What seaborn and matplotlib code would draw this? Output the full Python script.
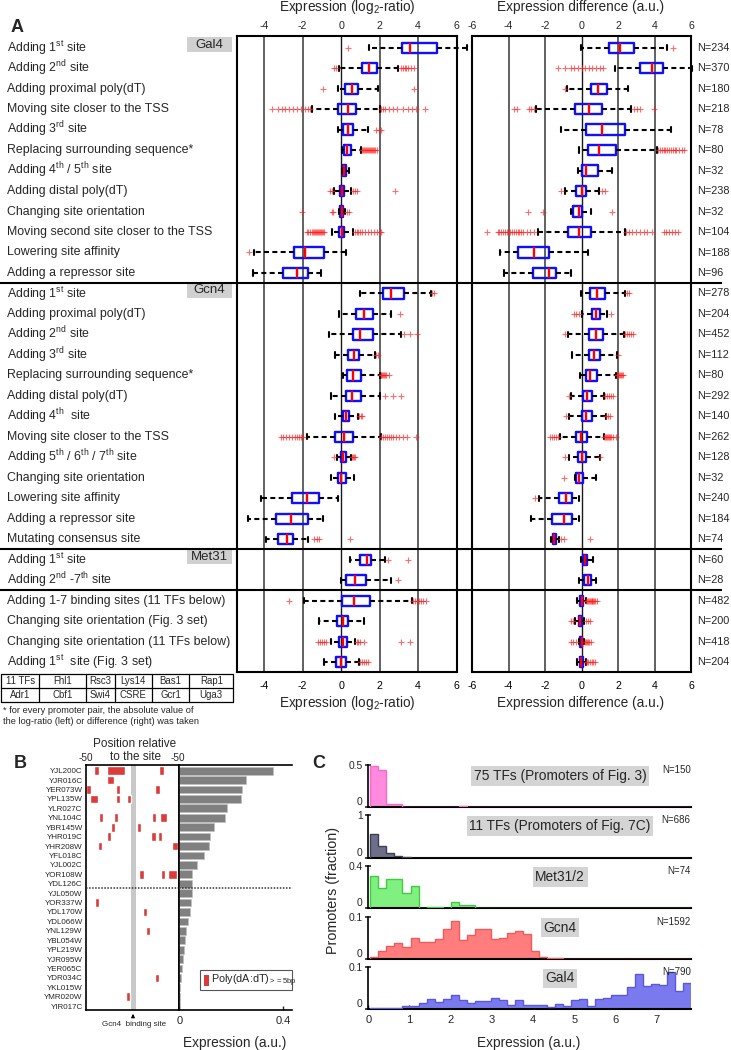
import numpy as np
import pandas as pd
import matplotlib
matplotlib.use("Agg")
import matplotlib.pyplot as plt
import seaborn as sns
from matplotlib.patches import Rectangle

sns.set_theme(style="white")
plt.rcParams["font.family"] = ["Liberation Sans", "DejaVu Sans"]
plt.rcParams["mathtext.fontset"] = "custom"
plt.rcParams["mathtext.rm"] = "Liberation Sans"
plt.rcParams["mathtext.it"] = "Liberation Sans:italic"
plt.rcParams["mathtext.bf"] = "Liberation Sans:bold"
plt.rcParams["axes.unicode_minus"] = False

# ---------------- DATA : panel A ----------------
row_labels = [
    "Adding 1$^{\\mathrm{st}}$ site", "Adding 2$^{\\mathrm{nd}}$ site", "Adding proximal poly(dT)",
    "Moving site closer to the TSS", "Adding 3$^{\\mathrm{rd}}$ site", "Replacing surrounding sequence*",
    "Adding 4$^{\\mathrm{th}}$ / 5$^{\\mathrm{th}}$ site", "Adding distal poly(dT)", "Changing site orientation",
    "Moving second site closer to the TSS", "Lowering site affinity", "Adding a repressor site",
    "Adding 1$^{\\mathrm{st}}$ site", "Adding proximal poly(dT)", "Adding 2$^{\\mathrm{nd}}$ site",
    "Adding 3$^{\\mathrm{rd}}$ site", "Replacing surrounding sequence*", "Adding distal poly(dT)",
    "Adding 4$^{\\mathrm{th}}$  site", "Moving site closer to the TSS",
    "Adding 5$^{\\mathrm{th}}$ / 6$^{\\mathrm{th}}$ / 7$^{\\mathrm{th}}$ site", "Changing site orientation",
    "Lowering site affinity", "Adding a repressor site", "Mutating consensus site",
    "Adding 1$^{\\mathrm{st}}$ site", "Adding 2$^{\\mathrm{nd}}$ -7$^{\\mathrm{th}}$ site",
    "Adding 1-7 binding sites (11 TFs below)", "Changing site orientation (Fig. 3 set)",
    "Changing site orientation (11 TFs below)", "Adding 1$^{\\mathrm{st}}$  site (Fig. 3 set)",
]
group_names = ["Gal4", "Gcn4", "Met31"]
group_rows = [0, 12, 25]
n_counts = [234, 370, 180, 218, 78, 80, 32, 238, 32, 104, 188, 96,
            278, 204, 452, 112, 80, 292, 140, 262, 128, 32, 240, 184, 74,
            60, 28, 482, 200, 418, 204]

# left: log2-ratio
wlo_L = [1.46, -0.09, -0.14, -1.53, -0.18, 0.07, 0.03, -0.35, -0.10, -0.49, -4.51, -4.58,
         0.99, -0.12, -0.61, -0.31, 0.09, -0.54, -0.30, -1.79, -0.22, -0.52, -4.17, -4.86, -3.91,
         0.47, 0.00, -1.94, -1.15, -0.54, -0.90]
q1_L = [3.16, 1.08, 0.21, -0.14, 0.12, 0.17, 0.09, -0.05, -0.05, -0.09, -2.45, -3.00,
        2.20, 0.75, 0.61, 0.38, 0.31, 0.24, 0.09, -0.33, 0.00, -0.17, -2.54, -3.40, -3.30,
        0.99, 0.23, 0.02, -0.23, -0.09, -0.28]
med_L = [3.56, 1.47, 0.56, 0.35, 0.35, 0.33, 0.17, 0.07, 0.03, 0.07, -1.89, -2.29,
         2.60, 1.18, 0.99, 0.68, 0.63, 0.57, 0.24, 0.16, 0.12, -0.02, -1.79, -2.59, -2.83,
         1.34, 0.71, 0.66, 0.09, 0.09, 0.00]
q3_L = [4.98, 1.88, 0.90, 0.78, 0.61, 0.52, 0.24, 0.17, 0.10, 0.17, -0.90, -1.70,
        3.25, 1.68, 1.65, 0.95, 1.01, 1.02, 0.43, 0.64, 0.24, 0.23, -1.16, -1.75, -2.52,
        1.55, 1.27, 1.51, 0.38, 0.28, 0.24]
whi_L = [6.56, 2.98, 1.91, 2.03, 1.39, 1.04, 0.43, 0.50, 0.21, 0.60, 0.24, -1.06,
         4.69, 2.57, 3.11, 1.74, 2.03, 2.03, 0.87, 2.07, 0.51, 0.69, -0.14, -0.97, -1.75,
         2.26, 2.59, 3.70, 1.20, 0.71, 0.94]
fliers_L = [
    [0.38],
    [-0.35, -0.25, 3.1, 3.2, 3.3, 3.4, 3.5, 3.65, 3.8],
    [-0.92, 3.77],
    [-3.6, -3.3, -3.1, -2.9, -2.7, -2.5, -2.3, -2.1, -1.9, -1.75, -1.6,
     2.1, 2.2, 2.3, 2.5, 2.7, 2.9, 3.2, 3.5, 3.7, 3.9, 4.35],
    [1.8, 1.95, 2.05],
    [1.1, 1.15, 1.2, 1.25, 1.3, 1.35, 1.4, 1.45, 1.5, 1.55, 1.6, 1.65, 1.7, 1.75, 1.85],
    [],
    [-0.6, -0.5, 0.6, 0.7, 0.8, 2.8],
    [-2.05, -0.5, -0.4, 0.3, 0.4],
    [-1.8, -1.7, -1.6, -1.5, -1.45, -1.4, -1.35, -1.3, -1.25, -1.2, -1.15, -1.1, -1.05, -1.0, -0.95, -0.9,
     0.7, 0.8, 0.9, 1.0, 1.1, 1.25, 1.4, 1.55, 1.7, 1.85, 2.0, 2.1],
    [-4.79],
    [],
    [4.75, 4.85],
    [3.06],
    [3.25, 3.6, 3.97],
    [1.8, 1.9],
    [2.05, 2.1, 2.15, 2.2, 2.25, 2.3, 2.35, 2.5],
    [2.26, 2.71, 3.09],
    [0.95, 1.02, 1.1],
    [-3.15, -3.0, -2.85, -2.7, -2.55, -2.4, -2.3, -2.2, -2.1, -2.0,
     2.1, 2.2, 2.3, 2.4, 2.5, 2.6, 2.7, 2.85, 3.0, 3.2, 3.45, 3.9],
    [-0.36, 0.55, 0.6, 0.65, 0.7],
    [],
    [],
    [],
    [-1.4, -1.25, -1.13, 0.47],
    [2.43, 3.47],
    [2.95],
    [-2.71, 3.75, 3.85, 3.95, 4.05, 4.15, 4.25, 4.4],
    [],
    [-1.2, -1.1, -1.0, -0.9, -0.8, 0.8, 0.9, 1.0, 1.2, 3.12, 3.59],
    [1.0, 1.1, 1.2, 1.3, 1.4],
]

# right: difference
wlo_R = [-0.02, 1.83, -0.79, -2.47, -1.10, -0.11, -0.20, -0.92, -0.57, -2.40, -4.45, -4.25,
         -0.02, 0.04, -0.73, -0.51, -0.06, -0.57, -0.70, -1.19, -0.66, -0.38, -2.35, -2.77, -1.65,
         -0.02, -0.15, -0.24, -0.33, -0.15, -0.24]
q1_R = [1.52, 3.20, 0.53, -0.37, 0.22, 0.36, 0.05, -0.30, -0.46, -0.75, -3.48, -2.68,
        0.49, 0.58, 0.40, 0.42, 0.22, 0.09, 0.04, -0.30, -0.20, -0.30, -1.25, -1.61, -1.56,
        0.07, 0.16, -0.06, -0.15, -0.07, -0.08]
med_R = [2.10, 3.85, 0.91, 0.40, 1.10, 0.97, 0.24, 0.00, -0.11, -0.13, -2.62, -1.80,
         0.86, 0.79, 0.77, 0.71, 0.46, 0.31, 0.27, -0.02, 0.00, -0.15, -0.85, -0.97, -1.49,
         0.18, 0.33, 0.00, -0.06, 0.00, -0.03]
q3_R = [2.87, 4.49, 1.41, 1.10, 2.36, 1.87, 0.91, 0.22, 0.03, 0.53, -1.80, -1.39,
        1.28, 0.99, 1.17, 1.04, 0.86, 0.55, 0.55, 0.31, 0.25, 0.07, -0.51, -0.51, -1.40,
        0.31, 0.53, 0.09, 0.04, 0.05, 0.06]
whi_R = [4.70, 6.08, 2.56, 2.69, 4.89, 4.15, 1.65, 0.95, 0.53, 2.36, 0.35, -0.55,
         2.38, 1.41, 2.31, 1.92, 1.90, 1.24, 1.32, 1.23, 0.99, 0.77, -0.11, -0.11, -1.25,
         0.62, 0.80, 0.22, 0.16, 0.15, 0.22]
fliers_R = [
    [5.02],
    [-1.3, -0.9, -0.6, -0.4, -0.2, 0.0, 0.2, 0.4, 0.6, 0.8, 1.0, 1.2],
    [-0.9],
    [-3.72, -3.55, -2.9, -2.75, -2.6, 2.9, 3.05, 3.2, 3.97],
    [],
    [4.2, 4.3, 4.4, 4.5, 4.6, 4.7, 4.8, 4.9, 5.0, 5.1, 5.2, 5.35, 5.5, 5.6],
    [],
    [-1.1, 1.1, 1.3],
    [-2.93, -2.11, 1.68],
    [-5.19, -4.6, -4.5, -4.4, -4.3, -4.2, -4.1, -4.0, -3.9, -3.8, -3.7, -3.6, -3.5, -3.4, -3.3, -3.2,
     -3.0, -2.8, -2.6, 2.45, 2.6, 2.75, 3.0, 3.2, 3.4, 3.6, 3.85, 4.5, 4.65, 4.8, 4.95, 5.1, 5.3],
    [],
    [],
    [2.5, 2.62],
    [-0.42, -0.3, -0.15, 1.6],
    [-0.92, 2.4, 2.5, 2.6, 2.7, 2.8],
    [2.0],
    [1.95, 2.0, 2.05, 2.1, 2.15, 2.2, 2.3],
    [-0.7, 1.3, 1.4, 1.5, 1.6, 1.7],
    [-0.85, 1.35, 1.45, 1.55],
    [-1.7, -1.6, -1.5, -1.4, -1.3, 1.25, 1.3, 1.35, 1.4, 1.45, 1.5, 1.55, 1.6, 1.7, 1.9],
    [-0.88, 1.0],
    [-0.97],
    [-2.53],
    [],
    [-1.1, -0.95, 0.46],
    [],
    [],
    [0.25, 0.3, 0.35, 0.4, 0.45, 0.5, 0.55, 0.6, 0.65, 0.7, 0.75, 0.85],
    [-0.6, -0.45, 0.25, 0.35, 0.45],
    [-0.55, -0.45, -0.3, 0.2, 0.25, 0.3, 0.35, 0.4, 0.5],
    [0.25, 0.3, 0.35, 0.45, 0.55, 0.65, 0.75],
]
ticks_L = [-4, -2, 0, 2, 4, 6]
ticks_R = [-6, -4, -2, 0, 2, 4, 6]
tf_table = [["11 TFs", "Fhl1", "Rsc3", "Lys14", "Bas1", "Rap1"],
            ["Adr1", "Cbf1", "Swi4", "CSRE", "Gcr1", "Uga3"]]

# ---------------- DATA : panel B ----------------
genes = ["YJL200C", "YJR016C", "YER073W", "YPL135W", "YLR027C", "YNL104C", "YBR145W",
         "YHR019C", "YHR208W", "YFL018C", "YJL002C", "YOR108W", "YDL126C", "YJL050W",
         "YOR337W", "YDL170W", "YDL066W", "YNL129W", "YBL054W", "YPL219W", "YJR095W",
         "YER065C", "YDR034C", "YKL015W", "YMR020W", "YIR017C"]
expr_B = [0.359, 0.256, 0.242, 0.236, 0.183, 0.177, 0.133, 0.118, 0.115, 0.096, 0.069,
          0.050, 0.049, 0.048, 0.045, 0.041, 0.033, 0.026, 0.022, 0.017, 0.014, 0.010,
          0.005, 0.004, 0.003, 0.002]
seg_gene = [0, 0, 0, 1, 2, 2, 2, 3, 3, 3, 5, 5, 5, 5, 6, 6, 7, 7, 7, 8, 8, 11, 11, 11, 14, 15, 17, 22, 24]
seg_start = [-41.1, -27.2, 28.2, -27.2, -50.0, -18.2, 24.3, -45.7, -17.5, -5.7, -36.4, -20.0, 20.4, 29.3,
             -23.2, 4.3, -27.2, 20.0, 26.8, -37.5, 41.8, 7.1, 30.0, 37.5, -40.0, 11.1, 14.6, 23.6, -7.1]
seg_end = [-35.7, -8.2, 33.6, -19.7, -44.3, -13.6, 28.9, -37.5, -13.1, -1.8, -32.1, -15.4, 25.4, 36.4,
           -18.9, 8.9, -22.9, 24.7, 31.8, -33.2, 48.2, 11.8, 35.0, 47.9, -35.7, 15.4, 18.9, 28.2, -2.5]
site_band = (-2.0, 4.0)

# ---------------- DATA : panel C ----------------
hist_edges = np.linspace(0.05, 7.85, 41)
frac_75tf = [0.49, 0.44, 0.035, 0.035, 0, 0, 0, 0, 0, 0, 0, 0.016, 0, 0, 0, 0, 0, 0, 0, 0,
             0, 0, 0, 0, 0, 0, 0, 0, 0, 0, 0, 0, 0, 0, 0, 0, 0, 0, 0, 0]
frac_11tf = [0.555, 0.273, 0.10, 0.047, 0.016, 0, 0, 0, 0, 0, 0, 0, 0, 0, 0, 0, 0, 0, 0, 0,
             0, 0, 0, 0, 0, 0, 0, 0, 0, 0, 0, 0, 0, 0, 0, 0, 0, 0, 0, 0]
frac_met = [0.306, 0.195, 0.277, 0.277, 0.148, 0.214, 0, 0.016, 0.016, 0, 0.057, 0.028, 0.028, 0, 0, 0,
            0, 0, 0, 0, 0, 0, 0, 0, 0, 0, 0, 0, 0, 0, 0, 0, 0, 0, 0, 0, 0, 0, 0, 0]
frac_gcn4 = [0.006, 0.020, 0.031, 0.039, 0.028, 0.051, 0.041, 0.041, 0.048, 0.071, 0.091, 0.045,
             0.057, 0.070, 0.070, 0.048, 0.051, 0.061, 0.067, 0.059, 0.020, 0.005, 0.002, 0.003,
             0.001, 0.001, 0.001, 0.001, 0.001, 0.001, 0.001, 0.001, 0.001, 0.001, 0.001, 0.001,
             0.001, 0.001, 0.001, 0.001]
frac_gal4 = [0.002, 0.002, 0.003, 0.003, 0.008, 0.008, 0.016, 0.025, 0.017, 0.025, 0.034, 0.021,
             0.016, 0.020, 0.020, 0.027, 0.022, 0.010, 0.022, 0.010, 0.010, 0.010, 0.006, 0.012,
             0.008, 0.021, 0.024, 0.008, 0.024, 0.028, 0.034, 0.034, 0.054, 0.084, 0.056, 0.060,
             0.057, 0.089, 0.044, 0.063]
c_names = ["75 TFs (Promoters of Fig. 3)", "11 TFs (Promoters of Fig. 7C)", "Met31/2", "Gcn4", "Gal4"]
c_n = ["N=150", "N=686", "N=74", "N=1592", "N=790"]
c_top = [0.5, 1.0, 0.4, 0.1, 0.1]
c_toplab = ["0.5", "1", "0.4", "0.1", "0.1"]
c_fill = ["#ff8ade", "#6e6e88", "#80f080", "#ff7d7d", "#7a7aee"]
c_edge = ["#ff66cc", "#3e3e52", "#3fcc3f", "#f05a5a", "#5858e0"]

# ---------------- FIGURE ----------------
W, H = 731, 1050
fig = plt.figure(figsize=(W / 100, H / 100), dpi=100)


def rect(x0, y0, x1, y1):
    return [x0 / W, 1 - y1 / H, (x1 - x0) / W, (y1 - y0) / H]


ROW0, DROW = 47.7, 20.48
ylimA = ((672 - ROW0) / DROW, (36 - ROW0) / DROW)


def draw_boxes(ax, wlo, q1, med, q3, whi, fl):
    stats = [dict(whislo=a, q1=b, med=c, q3=d, whishi=e, fliers=np.array(f, dtype=float))
             for a, b, c, d, e, f in zip(wlo, q1, med, q3, whi, fl)]
    kw = dict(positions=np.arange(len(stats)), widths=0.5, capwidths=0.26,
              boxprops=dict(color="#1010ff", lw=1.7),
              medianprops=dict(color="#ff0000", lw=1.7),
              whiskerprops=dict(color="black", lw=1.5, ls=(0, (2.4, 1.6))),
              capprops=dict(color="black", lw=1.5),
              flierprops=dict(marker="+", markeredgecolor="#ff2020", markersize=4.2,
                              mew=0.8, alpha=0.65, ls="none"),
              manage_ticks=False)
    try:
        art = ax.bxp(stats, orientation="horizontal", **kw)
    except TypeError:
        art = ax.bxp(stats, vert=False, **kw)
    for v in art.values():
        for a in v:
            a.set_clip_on(False)


for axpos, xl, ticks, data in [
        ((237, 36, 457, 672), (-5.42, 6.03), ticks_L, (wlo_L, q1_L, med_L, q3_L, whi_L, fliers_L)),
        ((472, 36, 691, 672), (-6, 6), ticks_R, (wlo_R, q1_R, med_R, q3_R, whi_R, fliers_R))]:
    ax = fig.add_axes(rect(*axpos))
    ax.set_xlim(*xl)
    ax.set_ylim(*ylimA)
    for t in ticks:
        if xl[0] < t < xl[1] - 0.05:
            ax.axvline(t, color="#1a1a1a" if t == 0 else "#555555", lw=1.0 if t == 0 else 1.3, zorder=1)
    draw_boxes(ax, *data)
    ax.set_yticks([])
    ax.set_xticks(ticks)
    ax.set_xticklabels([str(t) for t in ticks])
    ax.tick_params(axis="x", length=0, pad=6.2, labelsize=7.7, colors="black")
    sec = ax.secondary_xaxis("top")
    sec.set_xticks(ticks)
    sec.set_xticklabels([str(t) for t in ticks])
    sec.tick_params(axis="x", length=0, pad=3.8, labelsize=7.7)
    sec.spines["top"].set_visible(False)
    for s in ax.spines.values():
        s.set_color("black")
        s.set_linewidth(1.5)

axB1 = fig.add_axes(rect(86, 765, 179.3, 1010))
axB2 = fig.add_axes(rect(179.3, 765, 291.7, 1010))
ylimB = (25.4, -0.6)

axB1.axvspan(site_band[0], site_band[1], color="#c8c8c8", lw=0, zorder=1)
axB1.barh(seg_gene, [e - s for s, e in zip(seg_start, seg_end)],
          left=seg_start, height=0.92, color="#dd3a3a", zorder=2)
axB1.set_xlim(-50, 50)
axB1.set_ylim(*ylimB)
axB1.set_yticks(range(len(genes)))
axB1.set_yticklabels(genes, fontsize=5.8)
axB1.set_xticks([])
axB1.tick_params(axis="y", length=0, pad=2.4)
axB1.axhline(12.5, color="#333333", lw=1.1, ls=(0, (1, 1)), zorder=3)
for s in axB1.spines.values():
    s.set_color("black")
    s.set_linewidth(1.2)

dfB = pd.DataFrame({"gene": genes, "expr": expr_B})
sns.barplot(data=dfB, x="expr", y="gene", orient="h", color="#808080", saturation=1, width=0.82,
            edgecolor="#c0c0c0", linewidth=0.5, ax=axB2)
axB2.set_xlim(0, 0.432)
axB2.set_ylim(*ylimB)
axB2.set_yticks([])
axB2.set_ylabel("")
axB2.set_xlabel("")
axB2.set_xticks([0, 0.4])
axB2.set_xticklabels(["0", "0.4"])
axB2.tick_params(axis="x", direction="in", length=3, width=1, labelsize=8, pad=4, bottom=True)
axB2.axhline(12.5, color="#333333", lw=1.1, ls=(0, (1, 1)), zorder=3)
axB2.spines["right"].set_visible(False)
for s in ["left", "top", "bottom"]:
    axB2.spines[s].set_color("black")
    axB2.spines[s].set_linewidth(1.2)

c_tops = [765, 815, 866, 916.7, 967.3]
c_bots = [807.3, 857.7, 908.3, 959.3, 1009.3]
c_fracs = [frac_75tf, frac_11tf, frac_met, frac_gcn4, frac_gal4]
for k in range(5):
    ax = fig.add_axes(rect(368.3, c_tops[k], 690.7, c_bots[k]))
    ax.stairs(c_fracs[k], hist_edges, fill=True, color=c_fill[k], lw=0, zorder=2)
    ax.stairs(c_fracs[k], hist_edges, fill=False, color=c_edge[k], lw=1.0, zorder=3)
    ax.set_xlim(0, 7.83)
    ax.set_ylim(0, c_top[k])
    ax.set_ylabel("")
    ax.set_yticks([0, c_top[k]])
    ax.set_yticklabels(["0", c_toplab[k]])
    ax.tick_params(axis="y", direction="inout", length=5, width=1.2, labelsize=7.4, pad=1.5, left=True)
    ax.get_yticklabels()[0].set_va("bottom")
    ax.spines["top"].set_visible(False)
    ax.spines["right"].set_visible(False)
    ax.spines["left"].set_linewidth(1.2)
    ax.spines["bottom"].set_linewidth(1.5)
    ax.spines["left"].set_color("black")
    ax.spines["bottom"].set_color("black")
    if k < 4:
        ax.set_xticks([])
    else:
        ax.set_xticks(range(8))
        ax.tick_params(axis="x", direction="in", length=3, width=1, labelsize=8, pad=4, bottom=True)
    ax.set_xlabel("")
    ax.text(0.595, 0.74, c_names[k], transform=ax.transAxes, ha="center", va="center", fontsize=9.9,
            bbox=dict(facecolor="#d4d4d4", edgecolor="none", pad=1.9))
    ax.text(1.0, 1.0, c_n[k], transform=ax.transAxes, ha="right", va="top", fontsize=7)

# ---------------- overlay: texts and lines in pixel coords ----------------
ov = fig.add_axes([0, 0, 1, 1], zorder=10)
ov.set_xlim(0, W)
ov.set_ylim(H, 0)
ov.set_axis_off()
ov.patch.set_alpha(0)

ov.text(17.5, 27, "A", fontsize=13, fontweight="bold", ha="center", va="center")
ov.text(347, 7, "Expression (log$_2$-ratio)", fontsize=9.8, ha="center", va="center")
ov.text(581, 7, "Expression difference (a.u.)", fontsize=9.8, ha="center", va="center")
ov.text(347, 703, "Expression (log$_2$-ratio)", fontsize=9.8, ha="center", va="center")
ov.text(581, 703, "Expression difference (a.u.)", fontsize=9.8, ha="center", va="center")

for i, lab in enumerate(row_labels):
    y = ROW0 + i * DROW
    ov.text(7, y, lab, fontsize=8.9, ha="left", va="center")
    ov.text(697, y, "N=%d" % n_counts[i], fontsize=7.8, ha="left", va="center")
for g, r in zip(group_names, group_rows):
    y = ROW0 + r * DROW
    ov.add_patch(Rectangle((187, y - 10.5), 45, 15, facecolor="#d0d0d0", edgecolor="none"))
    ov.text(209.5, y - 3, g, fontsize=9.5, ha="center", va="center")
for rsep in [11.5, 24.5, 26.5]:
    y = ROW0 + rsep * DROW
    ov.plot([0, 722], [y, y], color="black", lw=1.5, solid_capstyle="butt")

col_x = [1, 39.3, 86, 115, 151.7, 189.3, 233.3]
row_yt = [674.3, 688.3, 702.3]
for yy in row_yt:
    ov.plot([col_x[0], col_x[-1]], [yy, yy], color="black", lw=0.9)
for xx in col_x:
    ov.plot([xx, xx], [row_yt[0], row_yt[-1]], color="black", lw=0.9)
for r in range(2):
    for c in range(6):
        ov.text((col_x[c] + col_x[c + 1]) / 2, (row_yt[r] + row_yt[r + 1]) / 2, tf_table[r][c],
                fontsize=6.9, ha="center", va="center")
ov.text(3, 710.5, "* for every promoter pair, the absolute value of", fontsize=6.7, ha="left", va="center")
ov.text(3, 721.7, "the log-ratio (left) or difference (right) was taken", fontsize=6.7, ha="left", va="center")

# panel B texts
ov.text(20, 764, "B", fontsize=13, fontweight="bold", ha="center", va="center")
ov.text(135, 744, "Position relative", fontsize=8.5, ha="center", va="center")
ov.text(135, 756.7, "to the site", fontsize=8.5, ha="center", va="center")
ov.text(86.3, 758.3, "-50", fontsize=7.2, ha="center", va="center")
ov.text(178.3, 758.3, "-50", fontsize=7.2, ha="center", va="center")
ov.annotate("", xy=(133, 1011), xytext=(133, 1020),
            arrowprops=dict(arrowstyle="-|>", color="black", lw=0.8, mutation_scale=5))
ov.text(134, 1025, "Gcn4  binding site", fontsize=5.8, ha="center", va="center")
ov.text(235, 1043, "Expression (a.u.)", fontsize=9.8, ha="center", va="center")
ov.add_patch(Rectangle((200, 970), 91.7, 20, facecolor="white", edgecolor="#555555", lw=0.8))
ov.add_patch(Rectangle((204, 975), 5, 11, facecolor="#dd3a3a", edgecolor="none"))
ov.text(211, 980.5, "Poly(dA:dT)$_{\\mathrm{>=5bp}}$", fontsize=7.8, ha="left", va="center")

# panel C texts
ov.text(319, 764, "C", fontsize=13, fontweight="bold", ha="center", va="center")
ov.text(333, 890, "Promoters (fraction)", fontsize=10.3, rotation=90, ha="center", va="center")
ov.text(529, 1043, "Expression (a.u.)", fontsize=9.8, ha="center", va="center")

fig.savefig("out.png", dpi=100)
